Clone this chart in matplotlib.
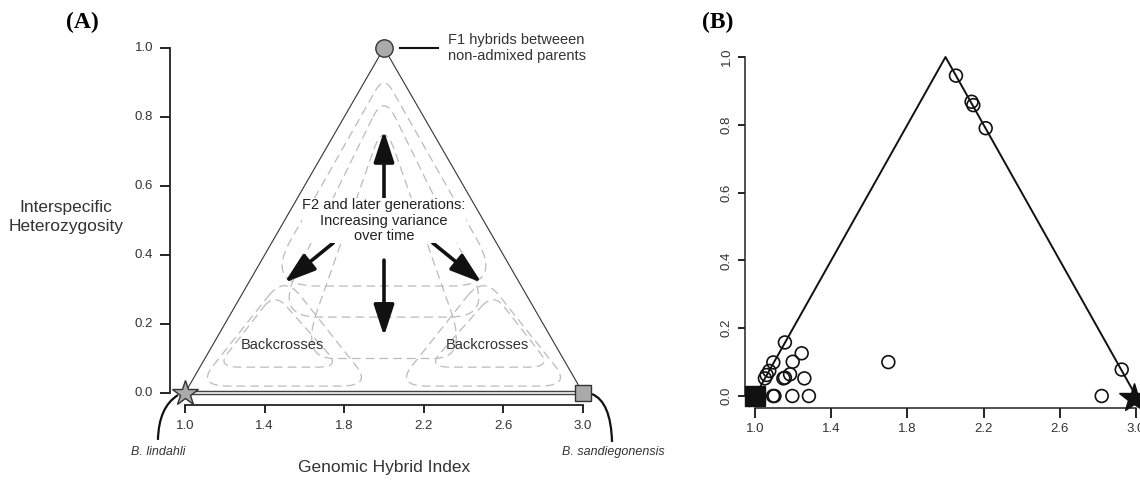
import numpy as np
import matplotlib
matplotlib.use("Agg")
import matplotlib.pyplot as plt
from matplotlib.path import Path
from matplotlib.patches import PathPatch

plt.rcParams['font.family'] = ['Liberation Sans', 'DejaVu Sans']

# === Data ===
# panel A: dashed contour outlines (corners in hybrid index / heterozygosity units)
central_shapes = [
    [(2.0, 0.92), (2.60, 0.31), (1.40, 0.31)],
    [(2.0, 0.865), (2.55, 0.22), (1.45, 0.22)],
    [(2.0, 0.79), (2.42, 0.10), (1.58, 0.10)],
]
central_round = [[0.07, 0.22, 0.22], [0.10, 0.2, 0.2], [0.12, 0.2, 0.2]]
backcross_shapes = [
    [(1.50, 0.34), (1.94, 0.02), (1.06, 0.02)],
    [(1.45, 0.29), (1.78, 0.075), (1.16, 0.075)],
    [(2.50, 0.34), (2.94, 0.02), (2.06, 0.02)],
    [(2.55, 0.29), (2.84, 0.075), (2.22, 0.075)],
]
arrow_tails = [(2.0, 0.55), (2.0, 0.385), (1.745, 0.435), (2.245, 0.435)]
arrow_tips = [(2.0, 0.76), (2.0, 0.165), (1.50, 0.32), (2.49, 0.32)]

# panel B: observed individuals
hybrid_index = [2.055, 2.137, 2.146, 2.211,
                1.157, 1.096, 1.245, 1.198, 1.075, 1.061, 1.052, 1.184,
                1.149, 1.157, 1.259, 1.095, 1.102, 1.196, 1.283,
                1.70, 2.925, 2.82]
heterozygosity = [0.945, 0.868, 0.858, 0.79,
                  0.158, 0.099, 0.126, 0.101, 0.074, 0.062, 0.052, 0.064,
                  0.052, 0.054, 0.052, 0.0, 0.0, 0.0, 0.0,
                  0.10, 0.078, 0.0]

x_ticks = [1.0, 1.4, 1.8, 2.2, 2.6, 3.0]
y_ticks = [0.0, 0.2, 0.4, 0.6, 0.8, 1.0]
tri_x = [1.0, 2.0, 3.0]
tri_y = [0.0, 1.0, 0.0]


def rounded_path(verts, r):
    # closed polygon with each corner replaced by a quadratic curve
    pts, codes = [], []
    n = len(verts)
    for i in range(n):
        p0, p1, p2 = np.array(verts[i - 1]), np.array(verts[i]), np.array(verts[(i + 1) % n])
        a = p1 + (p0 - p1) * r[i]
        b = p1 + (p2 - p1) * r[i]
        pts.append(a)
        codes.append(Path.MOVETO if i == 0 else Path.LINETO)
        pts += [p1, b]
        codes += [Path.CURVE3, Path.CURVE3]
    pts.append(pts[0])
    codes.append(Path.LINETO)
    return Path(pts, codes)


def style_axes(ax, ylab_rot=0, ypad=6, xpad=6, ylen=7, xlen=6, lw=1.3):
    for s in ['top', 'right']:
        ax.spines[s].set_visible(False)
    ax.spines['left'].set_bounds(0, 1)
    ax.spines['bottom'].set_bounds(1, 3)
    for s in ['left', 'bottom']:
        ax.spines[s].set_linewidth(lw)
        ax.spines[s].set_color('#222222')
    ax.set_xticks(x_ticks)
    ax.set_yticks(y_ticks)
    ax.set_xticklabels([f"{v:.1f}" for v in x_ticks])
    ax.set_yticklabels([f"{v:.1f}" for v in y_ticks], rotation=ylab_rot, va='center')
    ax.tick_params(axis='y', length=ylen, width=1.2, pad=ypad, labelsize=9.5, labelcolor='#333333')
    ax.tick_params(axis='x', length=xlen, width=1.2, pad=xpad, labelsize=9.5, labelcolor='#333333')


fig = plt.figure(figsize=(11.4, 4.8), dpi=100)

# === Panel A ===
axA = fig.add_axes([170 / 1140, 75 / 480, 430 / 1140, 365 / 480])
axA.set_xlim(1 - 15 / 199, 1 + 415 / 199)
axA.set_ylim(-12 / 345, 1 + 8 / 345)
style_axes(axA, ypad=5, xpad=5, ylen=7, xlen=6)

for verts, r in zip(central_shapes, central_round):
    axA.add_patch(PathPatch(rounded_path(verts, r), fill=False, ec='#bbbbbb', lw=0.9,
                            ls=(0, (7, 4))))
for verts in backcross_shapes:
    axA.add_patch(PathPatch(rounded_path(verts, [0.18] * 3), fill=False, ec='#bbbbbb', lw=0.9,
                            ls=(0, (7, 4))))

axA.plot(tri_x, tri_y, color='#333333', lw=0.8, clip_on=False, zorder=3)
axA.plot([tri_x[0], tri_x[2]], [0, 0], color='#444444', lw=3.2, clip_on=False, zorder=3,
         solid_capstyle='butt')
axA.plot([tri_x[0], tri_x[2]], [0, 0], color='#dddddd', lw=1.4, clip_on=False, zorder=3,
         solid_capstyle='butt')

for tail, tip in zip(arrow_tails, arrow_tips):
    axA.annotate('', xy=tip, xytext=tail,
                 arrowprops=dict(arrowstyle='-|>,head_length=1.9,head_width=0.62',
                                 lw=2.6, color='#111111', shrinkA=0, shrinkB=0,
                                 mutation_scale=10))

axA.plot([2.0], [1.0], 'o', ms=12.5, mfc='#aaaaaa', mec='#333333', mew=1, clip_on=False, zorder=5)
axA.plot([1.0], [0.0], '*', ms=19, mfc='#aaaaaa', mec='#333333', mew=1, clip_on=False, zorder=5)
axA.plot([3.0], [0.0], 's', ms=11, mfc='#aaaaaa', mec='#333333', mew=1, clip_on=False, zorder=5)

axA.plot([2.08, 2.27], [1.0, 1.0], color='#111111', lw=1.5, clip_on=False)
axA.text(2.32, 1.0, "F1 hybrids betweeen\nnon-admixed parents", fontsize=10.5,
         color='#333333', ha='left', va='center', linespacing=1.1)

axA.text(2.0, 0.50, "F2 and later generations:\nIncreasing variance\nover time",
         fontsize=10.5, color='#222222', ha='center', va='center', linespacing=1.1,
         bbox=dict(fc='white', ec='none', pad=0.5))
axA.text(1.49, 0.14, "Backcrosses", fontsize=10.5, color='#333333', ha='center', va='center')
axA.text(2.52, 0.14, "Backcrosses", fontsize=10.5, color='#333333', ha='center', va='center')

# brackets to parental species
bracket_l = Path([(0.965, -0.006), (0.868, -0.04), (0.864, -0.136)],
                 [Path.MOVETO, Path.CURVE3, Path.CURVE3])
bracket_r = Path([(3.045, -0.003), (3.14, -0.025), (3.146, -0.142)],
                 [Path.MOVETO, Path.CURVE3, Path.CURVE3])
for p in (bracket_l, bracket_r):
    axA.add_patch(PathPatch(p, fill=False, ec='#111111', lw=1.6, clip_on=False))
axA.text(0.864, -0.172, "B. lindahli", style='italic', fontsize=9, color='#333333',
         ha='center', va='center')
axA.text(3.15, -0.172, "B. sandiegonensis", style='italic', fontsize=9, color='#333333',
         ha='center', va='center')

axA.text(2.0, -0.215, "Genomic Hybrid Index", fontsize=12.5, color='#333333',
         ha='center', va='center')
axA.text(0.402, 0.51, "Interspecific\nHeterozygosity", fontsize=12.5, color='#333333',
         ha='center', va='center', linespacing=1.35)

fig.text(82 / 1140, 1 - 22 / 480, "(A)", family=['Liberation Serif'], fontweight='bold',
         fontsize=17, ha='center', va='center')

# === Panel B ===
axB = fig.add_axes([745 / 1140, 72 / 480, 410 / 1140, 358 / 480])
axB.set_xlim(1 - 10 / 190.5, 1 + 400 / 190.5)
axB.set_ylim(-12 / 339, 1 + 7 / 339)
style_axes(axB, ylab_rot=90, ypad=4, xpad=4, ylen=5, xlen=7, lw=1.1)

axB.plot([0.97, 2.0, 3.03], [-0.03, 1.0, -0.03], color='#111111', lw=1.4, clip_on=False)
axB.scatter(hybrid_index, heterozygosity, s=85, facecolors='none', edgecolors='#111111',
            linewidths=1.2, clip_on=False, zorder=4)
axB.plot([1.0], [0.0], 's', ms=14, color='#111111', clip_on=False, zorder=5)
axB.plot([2.99], [-0.005], '*', ms=22, color='#111111', clip_on=False, zorder=5)

fig.text(718 / 1140, 1 - 22 / 480, "(B)", family=['Liberation Serif'], fontweight='bold',
         fontsize=17, ha='center', va='center')

fig.savefig("out.png", dpi=100)
